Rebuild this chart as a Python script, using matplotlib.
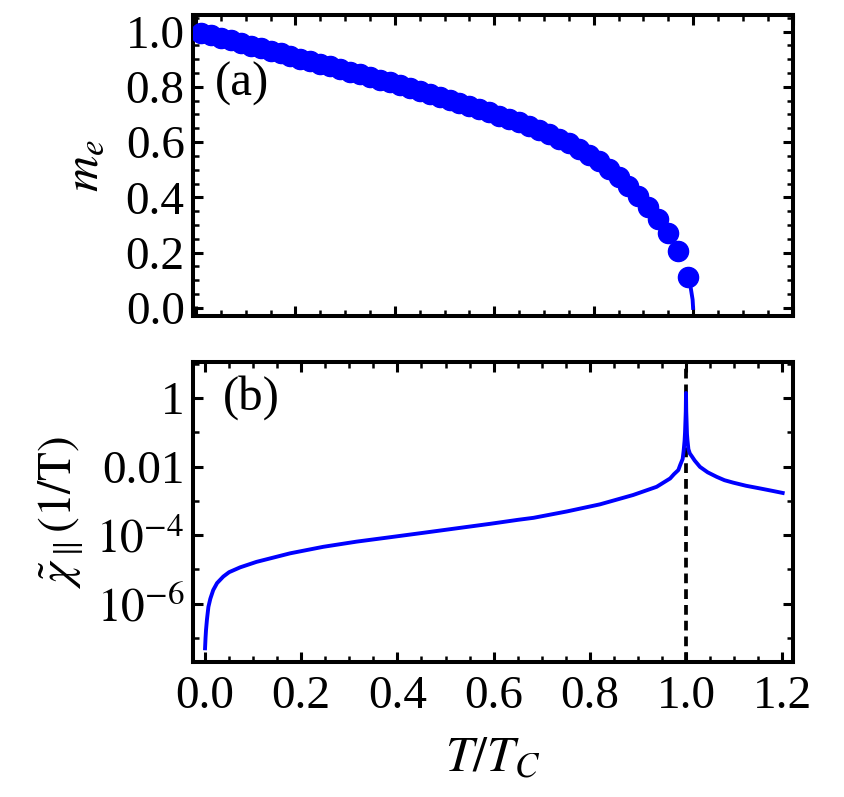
import matplotlib
matplotlib.use("Agg")
import matplotlib.pyplot as plt
from matplotlib.ticker import MultipleLocator, FixedLocator, NullFormatter

plt.rcParams['font.family'] = ['Liberation Serif', 'DejaVu Serif']
plt.rcParams['mathtext.fontset'] = 'stix'

# (a) magnetization, points
t_dots = [0.01, 0.03, 0.05, 0.07, 0.09, 0.11, 0.13, 0.15, 0.17, 0.19,
          0.21, 0.23, 0.25, 0.27, 0.29, 0.31, 0.33, 0.35, 0.37, 0.39,
          0.41, 0.43, 0.45, 0.47, 0.49, 0.51, 0.53, 0.55, 0.57, 0.59,
          0.61, 0.63, 0.65, 0.67, 0.69, 0.71, 0.73, 0.75, 0.77, 0.79,
          0.81, 0.83, 0.85, 0.87, 0.89, 0.91, 0.93, 0.95, 0.97, 0.99]
m_dots = [0.995, 0.986, 0.977, 0.968, 0.958, 0.949, 0.940, 0.930, 0.921, 0.911,
          0.902, 0.893, 0.883, 0.874, 0.864, 0.855, 0.845, 0.836, 0.826, 0.816,
          0.806, 0.796, 0.786, 0.775, 0.765, 0.754, 0.743, 0.732, 0.720, 0.708,
          0.696, 0.684, 0.671, 0.657, 0.643, 0.628, 0.612, 0.595, 0.576, 0.554,
          0.530, 0.503, 0.474, 0.442, 0.404, 0.364, 0.321, 0.270, 0.207, 0.113]
t_tail = [0.99, 0.995, 0.999, 1.0]
m_tail = [0.113, 0.075, 0.03, 0.0]

# (b) susceptibility
t_chi = [0.0, 0.001, 0.002, 0.004, 0.007, 0.011, 0.017, 0.025, 0.038, 0.05,
         0.073, 0.107, 0.177, 0.246, 0.315, 0.385, 0.454, 0.523, 0.593, 0.651,
         0.683, 0.752, 0.821, 0.890, 0.939, 0.967, 0.975, 0.984, 0.988, 0.993,
         0.995, 0.997, 0.998, 0.999, 0.9995, 1.0, 1.0005, 1.001, 1.002, 1.003,
         1.005, 1.008, 1.012, 1.018, 1.029, 1.045, 1.064, 1.08, 1.098, 1.125,
         1.154, 1.18, 1.201]
chi = [5.0e-8, 1.0e-7, 1.7e-7, 3.5e-7, 8.1e-7, 1.4e-6, 2.5e-6, 4.0e-6, 6.2e-6, 8.3e-6,
       1.15e-5, 1.66e-5, 2.95e-5, 4.57e-5, 6.46e-5, 8.7e-5, 1.17e-4, 1.58e-4, 2.14e-4, 2.8e-4,
       3.2e-4, 4.9e-4, 7.9e-4, 1.48e-3, 2.57e-3, 4.5e-3, 6.0e-3, 7.9e-3, 1.12e-2, 1.66e-2,
       2.8e-2, 5.6e-2, 0.1, 0.25, 0.4, 1.4, 0.4, 0.25, 8.9e-2, 5.9e-2,
       3.2e-2, 2.4e-2, 2.0e-2, 1.5e-2, 9.8e-3, 6.8e-3, 5.0e-3, 4.0e-3, 3.4e-3, 2.75e-3,
       2.3e-3, 1.95e-3, 1.7e-3]

x_ticks = [0.0, 0.2, 0.4, 0.6, 0.8, 1.0, 1.2]
x_labels = ['0.0', '0.2', '0.4', '0.6', '0.8', '1.0', '1.2']
m_ticks = [0.0, 0.2, 0.4, 0.6, 0.8, 1.0]
m_labels = ['0.0', '0.2', '0.4', '0.6', '0.8', '1.0']
chi_ticks = [1e-6, 1e-4, 1e-2, 1]
chi_labels = [r'$10^{-6}$', r'$10^{-4}$', '0.01', '1']
chi_minor = [1e-7, 1e-5, 1e-3, 1e-1, 10]

blue = '#0000ff'
fs = 34

fig = plt.figure(figsize=(8.44, 7.97), dpi=100)
ax1 = fig.add_axes([0.2287, 0.6029, 0.7109, 0.3783])
ax2 = fig.add_axes([0.2287, 0.1694, 0.7109, 0.3764])


def style(ax):
    for s in ax.spines.values():
        s.set_linewidth(2.9)
    ax.tick_params(which='both', direction='in', top=True, right=True,
                   labelsize=fs, pad=6, width=2.2)
    ax.tick_params(which='major', length=7)
    ax.tick_params(which='minor', length=4, width=1.8)


# top panel
ax1.plot(t_tail, m_tail, color=blue, lw=2.8, zorder=2)
ax1.plot(t_dots, m_dots, 'o', color=blue, ms=14.5, zorder=3)
ax1.set_xlim(-0.006, 1.201)
ax1.set_ylim(-0.031, 1.06)
ax1.set_xticks(x_ticks)
ax1.xaxis.set_minor_locator(MultipleLocator(0.05))
ax1.set_xticklabels([])
ax1.set_yticks(m_ticks)
ax1.set_yticklabels(m_labels)
ax1.yaxis.set_minor_locator(MultipleLocator(0.05))
style(ax1)
ax1.set_ylabel(r'$m_e$', fontsize=36, labelpad=12)
ax1.text(0.037, 0.77, '(a)', transform=ax1.transAxes, fontsize=35,
         va='center', ha='left')

# bottom panel
ax2.plot(t_chi, chi, color=blue, lw=2.8, zorder=3, solid_joinstyle='round')
ax2.axvline(1.0, color='black', lw=2.7, dashes=(2.6, 1.6), zorder=2)
ax2.set_yscale('log')
ax2.set_xlim(-0.025, 1.2225)
ax2.set_ylim(10 ** -7.7, 10 ** 1.05)
ax2.set_xticks(x_ticks)
ax2.set_xticklabels(x_labels)
ax2.xaxis.set_minor_locator(MultipleLocator(0.05))
ax2.yaxis.set_major_locator(FixedLocator(chi_ticks))
ax2.set_yticklabels(chi_labels)
ax2.yaxis.set_minor_locator(FixedLocator(chi_minor))
ax2.yaxis.set_minor_formatter(NullFormatter())
style(ax2)
ax2.tick_params(axis='x', pad=10)
ax2.set_xlabel(r'$T/T_C$', fontsize=36, labelpad=12)
ax2.set_ylabel(r'$\tilde{\chi}_{\parallel}(1/\mathrm{T})$', fontsize=fs, labelpad=8)
ax2.text(0.05, 0.883, '(b)', transform=ax2.transAxes, fontsize=35,
         va='center', ha='left')

fig.savefig('out.png', dpi=100)
